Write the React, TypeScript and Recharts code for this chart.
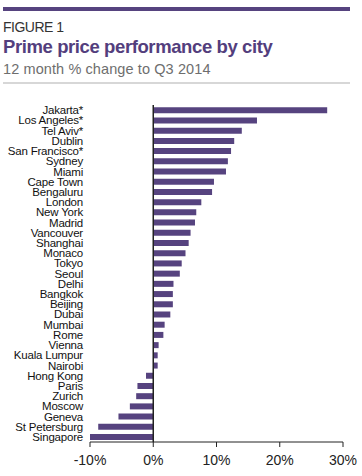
import React from 'react';
import { BarChart, Bar, XAxis, YAxis, ReferenceLine } from 'recharts';

const cities = [
  'Jakarta*', 'Los Angeles*', 'Tel Aviv*', 'Dublin', 'San Francisco*', 'Sydney', 'Miami',
  'Cape Town', 'Bengaluru', 'London', 'New York', 'Madrid', 'Vancouver', 'Shanghai',
  'Monaco', 'Tokyo', 'Seoul', 'Delhi', 'Bangkok', 'Beijing', 'Dubai', 'Mumbai', 'Rome',
  'Vienna', 'Kuala Lumpur', 'Nairobi', 'Hong Kong', 'Paris', 'Zurich', 'Moscow', 'Geneva',
  'St Petersburg', 'Singapore',
];
const changes = [
  27.5, 16.4, 14.0, 12.8, 12.3, 11.8, 11.5,
  9.6, 9.3, 7.6, 6.8, 6.6, 5.9, 5.6,
  5.1, 4.5, 4.2, 3.2, 3.1, 3.1, 2.7, 1.8, 1.6,
  0.85, 0.7, 0.7, -1.15, -2.5, -2.7, -3.7, -5.5,
  -8.7, -10.0,
];
const xTicks = [-10, 0, 10, 20, 30];

const data = cities.map((city, i) => ({ city, value: changes[i] }));

const PURPLE = '#56437f';
const FONT = '"Liberation Sans", Arial, Helvetica, sans-serif';

function CityTick(props: any) {
  const { x, y, payload } = props;
  return (
    <text
      x={x}
      y={y}
      dy="0.36em"
      textAnchor="end"
      fontSize={11.5}
      letterSpacing={-0.2}
      fill="#111"
      fontFamily={FONT}
    >
      {payload.value}
    </text>
  );
}

export default function App() {
  return (
    <div style={{ position: 'absolute', left: 0, top: 0, width: 362, height: 476, background: '#fff', fontFamily: FONT }}>
      <svg width={362} height={90} style={{ position: 'absolute', left: 0, top: 0 }}>
        <rect x={3} y={7} width={347} height={4} fill={PURPLE} />
        <text x={3} y={31.7} fontSize={14} letterSpacing={-0.5} fill="#333" fontFamily={FONT}>FIGURE 1</text>
        <text x={3} y={53.3} fontSize={18.5} fontWeight="bold" letterSpacing={-0.4} fill="#533e7d" fontFamily={FONT}>Prime price performance by city</text>
        <text x={3} y={74} fontSize={14.5} letterSpacing={0.1} fill="#6e6e6e" fontFamily={FONT}>12 month % change to Q3 2014</text>
        <rect x={3} y={82.5} width={347} height={1} fill="#b0b0b0" />
      </svg>
      <div style={{ position: 'absolute', left: 0, top: 0 }}>
        <BarChart
          width={362}
          height={476}
          data={data}
          layout="vertical"
          margin={{ top: 105, right: 19, bottom: 4, left: 0 }}
          barCategoryGap="22%"
        >
          <XAxis
            type="number"
            domain={[-10, 30]}
            ticks={xTicks}
            tickFormatter={(v: number) => `${v}%`}
            axisLine={{ stroke: '#222', strokeWidth: 1 }}
            tickLine={{ stroke: '#222', strokeWidth: 1 }}
            tickSize={5}
            tickMargin={8}
            height={30}
            tick={{ fontSize: 14, fill: '#222', fontFamily: FONT }}
          />
          <YAxis
            type="category"
            dataKey="city"
            width={90}
            interval={0}
            tickLine={false}
            axisLine={false}
            tickSize={0}
            tickMargin={7}
            tick={<CityTick />}
          />
          <Bar dataKey="value" fill={PURPLE} isAnimationActive={false} />
          <ReferenceLine x={0} stroke="#222" strokeWidth={1.5} />
        </BarChart>
      </div>
    </div>
  );
}
